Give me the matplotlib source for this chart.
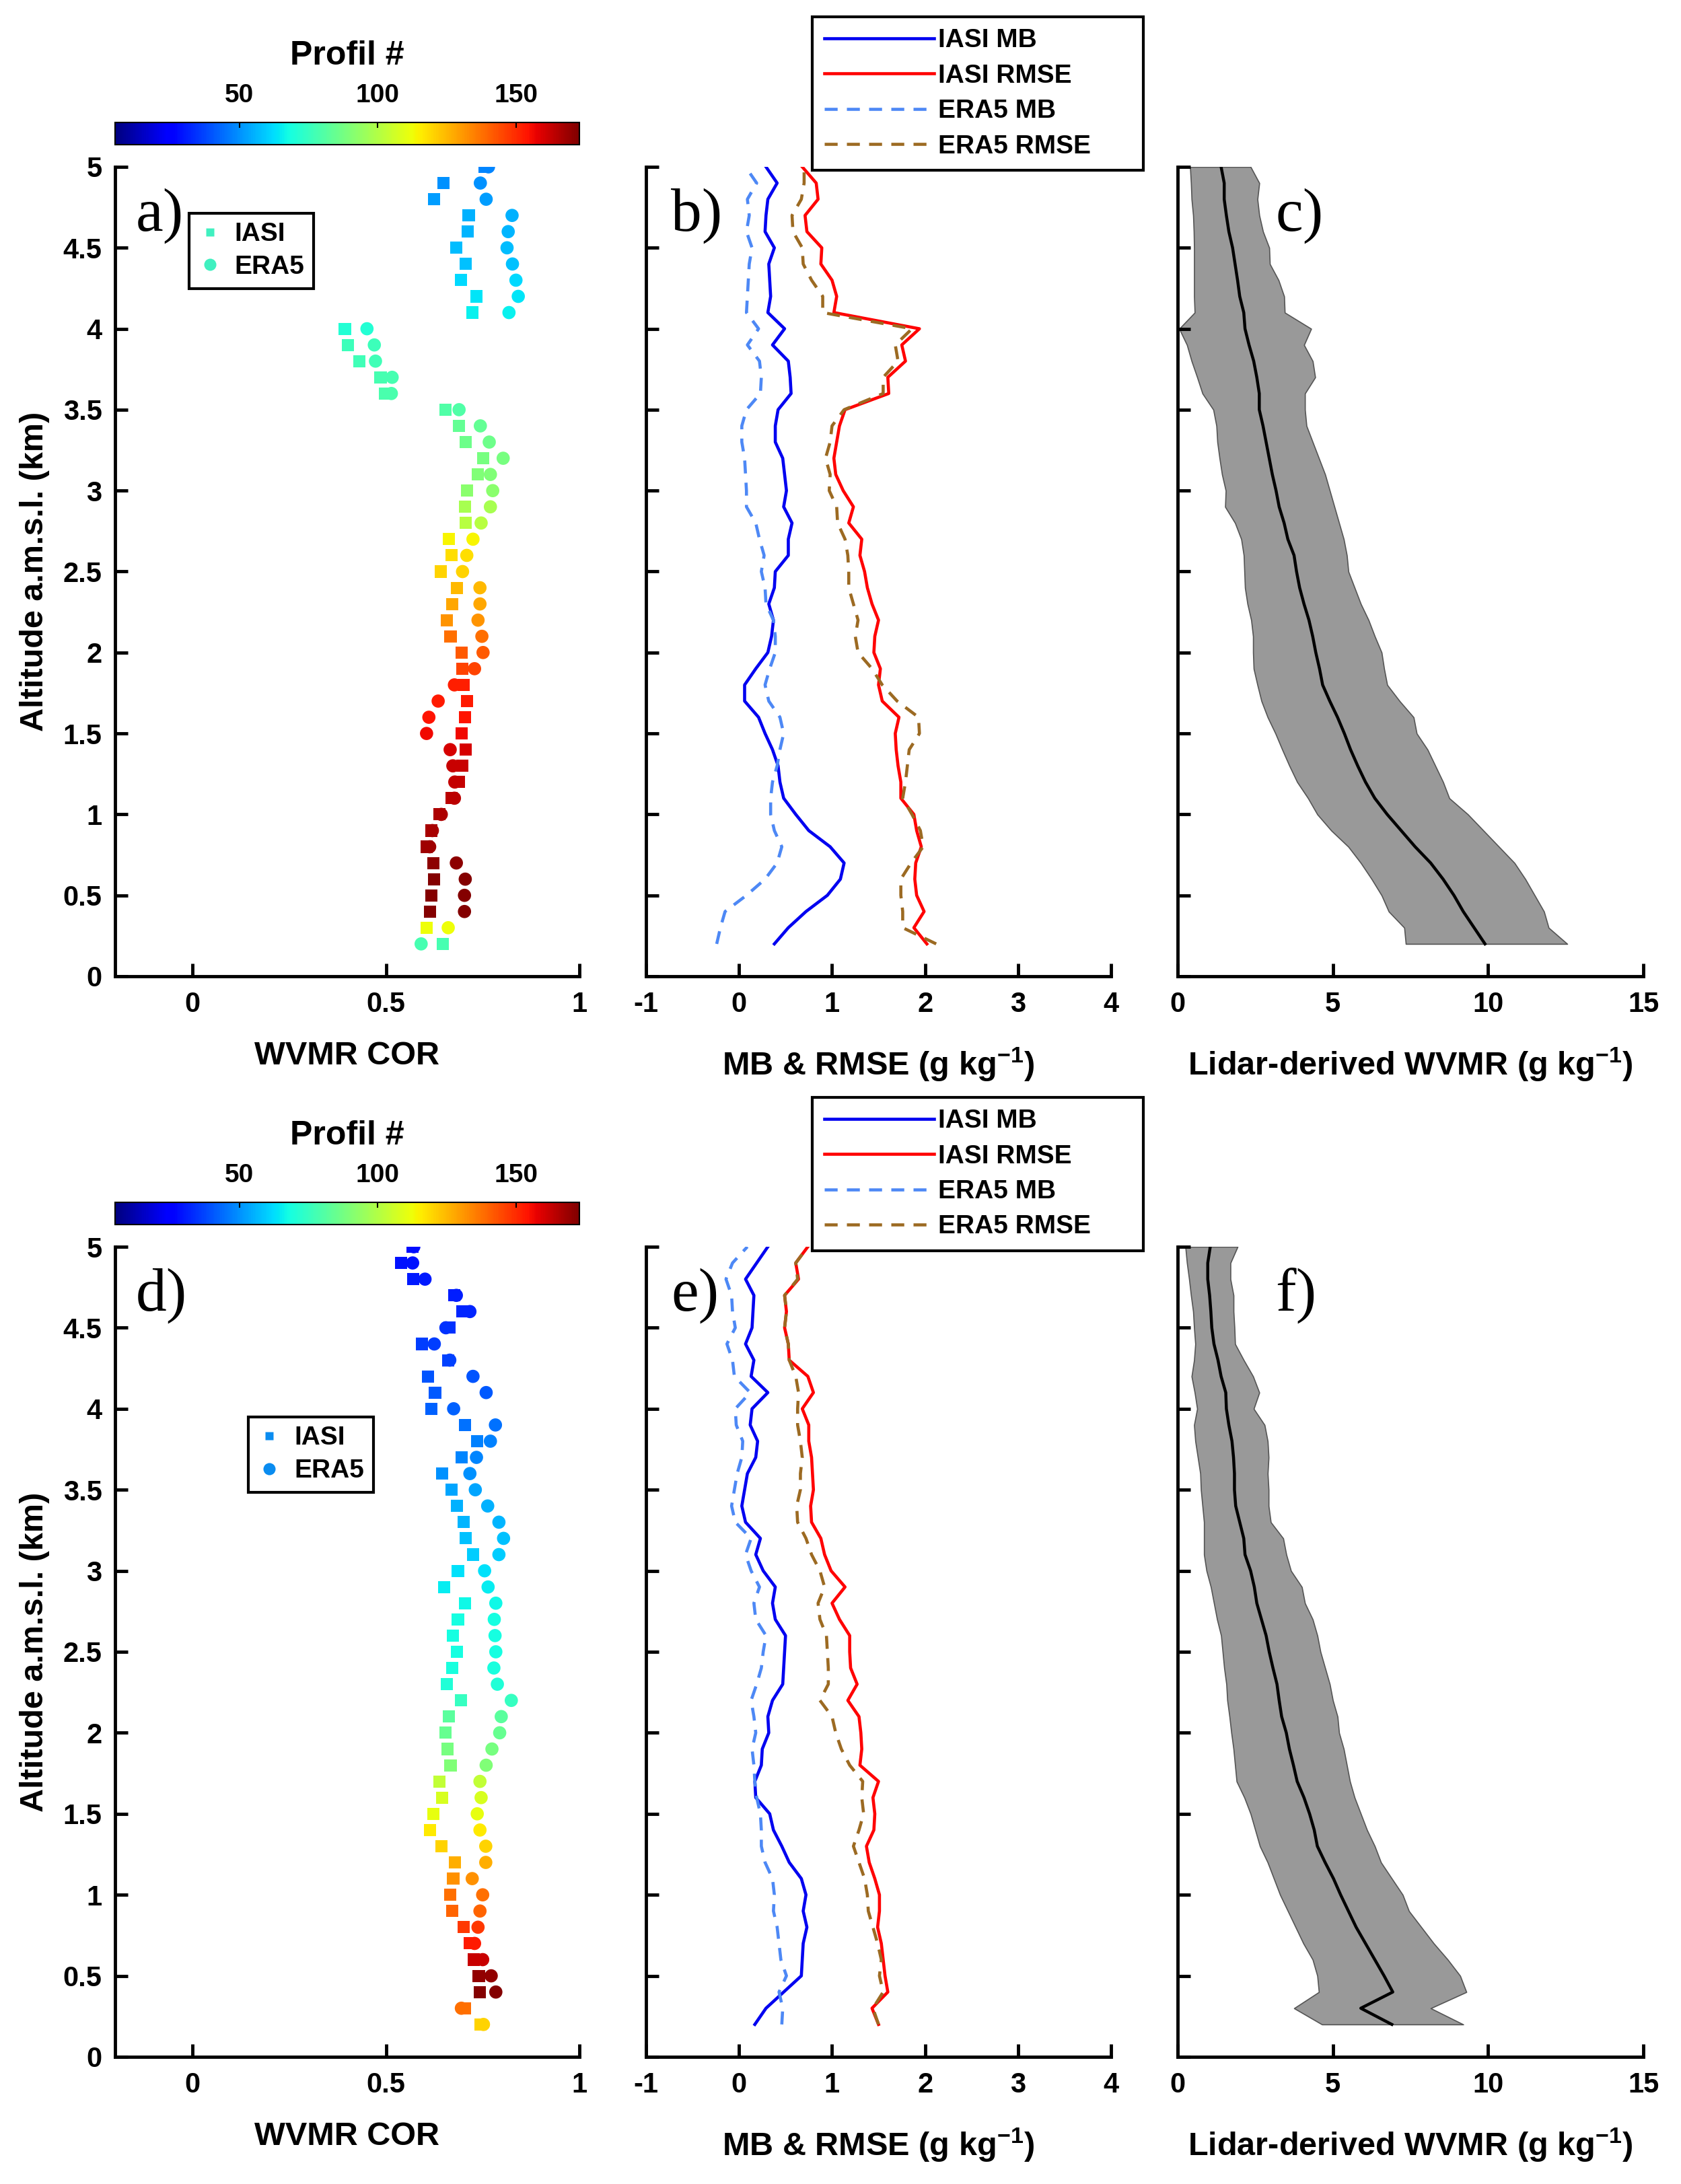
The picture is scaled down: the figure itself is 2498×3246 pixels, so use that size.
import numpy as np
import matplotlib
matplotlib.use("Agg")
import matplotlib.pyplot as plt
from matplotlib.lines import Line2D
from matplotlib.ticker import FuncFormatter

plt.rcParams['font.family'] = ['Liberation Sans', 'DejaVu Sans']
plt.rcParams['font.weight'] = 'bold'
plt.rcParams['mathtext.fontset'] = 'custom'
plt.rcParams['mathtext.rm'] = 'Liberation Sans:bold'
plt.rcParams['mathtext.it'] = 'Liberation Sans:bold'
plt.rcParams['mathtext.bf'] = 'Liberation Sans:bold'

# altitude grid (km), bottom to top
ALT = [0.2, 0.3, 0.4, 0.5, 0.6, 0.7, 0.8, 0.9, 1.0,
       1.1, 1.2, 1.3, 1.4, 1.5, 1.6, 1.7, 1.8, 1.9, 2.0,
       2.1, 2.2, 2.3, 2.4, 2.5, 2.6, 2.7, 2.8, 2.9, 3.0,
       3.1, 3.2, 3.3, 3.4, 3.5, 3.6, 3.7, 3.8, 3.9, 4.0,
       4.1, 4.2, 4.3, 4.4, 4.5, 4.6, 4.7, 4.8, 4.9, 5.0]

# ---- top row ----
COR_IASI_TOP = [0.647, 0.605, 0.614, 0.618, 0.625, 0.623, 0.605, 0.617, 0.639,
                0.669, 0.689, 0.697, 0.706, 0.695, 0.705, 0.709, 0.701, 0.697, 0.695,
                0.667, 0.657, 0.671, 0.683, 0.641, 0.669, 0.663, 0.706, 0.705, 0.709,
                0.738, 0.752, 0.706, 0.689, 0.654, 0.498, 0.486, 0.432, 0.402, 0.394,
                0.724, 0.734, 0.694, 0.706, 0.682, 0.711, 0.714, 0.625, 0.649, 0.755]
COR_ERA5_TOP = [0.591, 0.661, 0.703, 0.703, 0.705, 0.682, 0.613, 0.620, 0.643,
                0.677, 0.678, 0.673, 0.666, 0.605, 0.611, 0.635, 0.677, 0.729, 0.751,
                0.748, 0.738, 0.743, 0.743, 0.698, 0.709, 0.725, 0.746, 0.770, 0.776,
                0.770, 0.803, 0.767, 0.744, 0.689, 0.514, 0.516, 0.473, 0.470, 0.451,
                0.818, 0.842, 0.836, 0.827, 0.813, 0.816, 0.826, 0.759, 0.744, 0.765]
NPROF_TOP = [78, 112, 172, 172, 172, 171, 168, 167, 166,
             164, 163, 162, 160, 156, 154, 153, 152, 146, 142,
             138, 131, 128, 125, 120, 118, 114, 101, 98, 92,
             90, 88, 86, 84, 80, 79, 78, 77, 76, 71,
             66, 64, 62, 58, 57, 56, 55, 52, 50, 48]

MB_IASI_TOP = [0.38, 0.53, 0.72, 0.95, 1.09, 1.13, 0.98, 0.75, 0.61,
               0.48, 0.44, 0.42, 0.36, 0.28, 0.21, 0.06, 0.06, 0.18, 0.31,
               0.35, 0.37, 0.32, 0.38, 0.39, 0.53, 0.53, 0.57, 0.48, 0.51,
               0.49, 0.47, 0.39, 0.39, 0.42, 0.56, 0.55, 0.53, 0.36, 0.49,
               0.31, 0.34, 0.33, 0.32, 0.38, 0.28, 0.29, 0.31, 0.41, 0.29]
RMSE_IASI_TOP = [2.02, 1.88, 1.99, 1.91, 1.89, 1.90, 1.96, 1.91, 1.88,
                 1.74, 1.74, 1.71, 1.69, 1.68, 1.72, 1.54, 1.50, 1.52, 1.45,
                 1.46, 1.50, 1.43, 1.38, 1.35, 1.30, 1.32, 1.18, 1.23, 1.12,
                 1.04, 1.02, 1.05, 1.08, 1.14, 1.61, 1.60, 1.79, 1.75, 1.94,
                 1.02, 1.05, 1.00, 0.88, 0.89, 0.73, 0.71, 0.85, 0.83, 0.68]
MB_ERA5_TOP = [-0.24, -0.20, -0.15, 0.08, 0.28, 0.41, 0.46, 0.38, 0.34,
               0.34, 0.36, 0.41, 0.44, 0.48, 0.44, 0.32, 0.28, 0.33, 0.39,
               0.39, 0.37, 0.29, 0.28, 0.24, 0.27, 0.22, 0.18, 0.08, 0.08,
               0.07, 0.06, 0.03, 0.03, 0.08, 0.23, 0.24, 0.22, 0.09, 0.21,
               0.08, 0.09, 0.10, 0.11, 0.14, 0.08, 0.11, 0.09, 0.19, 0.07]
RMSE_ERA5_TOP = [2.12, 1.76, 1.76, 1.74, 1.74, 1.85, 1.98, 1.95, 1.86,
                 1.76, 1.79, 1.81, 1.83, 1.94, 1.93, 1.70, 1.54, 1.43, 1.28,
                 1.25, 1.28, 1.23, 1.18, 1.18, 1.17, 1.14, 1.06, 1.05, 0.97,
                 0.98, 0.93, 0.98, 1.00, 1.13, 1.55, 1.55, 1.71, 1.68, 1.86,
                 0.90, 0.90, 0.78, 0.69, 0.68, 0.58, 0.57, 0.67, 0.70, 0.70]

WVMR_MEAN_TOP = [9.90, 9.55, 9.20, 8.90, 8.55, 8.15, 7.65, 7.20, 6.75,
                 6.35, 6.05, 5.80, 5.57, 5.37, 5.15, 4.90, 4.67, 4.57, 4.45,
                 4.35, 4.23, 4.07, 3.93, 3.83, 3.75, 3.55, 3.43, 3.27, 3.17,
                 3.05, 2.95, 2.85, 2.75, 2.63, 2.63, 2.55, 2.45, 2.30, 2.17,
                 2.13, 2.00, 1.93, 1.85, 1.77, 1.65, 1.57, 1.50, 1.50, 1.40]
WVMR_LOW_TOP = [7.35, 7.30, 6.80, 6.57, 6.25, 5.90, 5.50, 4.95, 4.50,
                4.20, 3.85, 3.60, 3.37, 3.15, 2.90, 2.70, 2.57, 2.45, 2.43,
                2.43, 2.37, 2.25, 2.17, 2.15, 2.13, 2.05, 1.85, 1.53, 1.55,
                1.43, 1.35, 1.28, 1.25, 1.15, 0.80, 0.63, 0.45, 0.30, 0.05,
                0.55, 0.53, 0.53, 0.53, 0.53, 0.52, 0.50, 0.45, 0.43, 0.40]
WVMR_HIGH_TOP = [12.55, 11.95, 11.80, 11.50, 11.20, 10.85, 10.35, 9.85, 9.35,
                 8.75, 8.55, 8.30, 8.05, 7.70, 7.60, 7.15, 6.75, 6.65, 6.57,
                 6.35, 6.15, 5.90, 5.70, 5.50, 5.45, 5.35, 5.20, 5.05, 4.90,
                 4.75, 4.55, 4.35, 4.15, 4.10, 4.10, 4.43, 4.35, 4.07, 4.30,
                 3.45, 3.43, 3.25, 2.97, 2.95, 2.75, 2.63, 2.57, 2.63, 2.35]

# ---- bottom row ----
COR_IASI_BOT = [0.744, 0.705, 0.743, 0.740, 0.727, 0.717, 0.701, 0.671, 0.666,
                0.674, 0.678, 0.643, 0.614, 0.622, 0.645, 0.639, 0.667, 0.659, 0.654,
                0.662, 0.694, 0.657, 0.671, 0.684, 0.673, 0.686, 0.705, 0.650, 0.686,
                0.725, 0.706, 0.701, 0.683, 0.669, 0.645, 0.695, 0.736, 0.705, 0.617,
                0.627, 0.609, 0.661, 0.593, 0.665, 0.698, 0.677, 0.571, 0.539, 0.568]
COR_ERA5_BOT = [0.752, 0.695, 0.784, 0.772, 0.750, 0.729, 0.738, 0.743, 0.750,
                0.723, 0.758, 0.758, 0.743, 0.736, 0.746, 0.743, 0.759, 0.774, 0.794,
                0.798, 0.824, 0.788, 0.779, 0.784, 0.782, 0.780, 0.784, 0.764, 0.755,
                0.792, 0.804, 0.792, 0.763, 0.731, 0.717, 0.734, 0.770, 0.783, 0.675,
                0.759, 0.725, 0.665, 0.625, 0.655, 0.717, 0.682, 0.601, 0.569, 0.572]
NPROF_BOT = [120, 138, 172, 170, 162, 153, 148, 140, 138,
             132, 127, 120, 116, 111, 108, 103, 90, 88, 85,
             82, 75, 70, 69, 68, 68, 68, 67, 65, 63,
             60, 58, 56, 55, 53, 50, 48, 47, 45, 42,
             41, 40, 37, 36, 34, 32, 31, 30, 29, 28]

MB_IASI_BOT = [0.17, 0.29, 0.48, 0.67, 0.68, 0.69, 0.73, 0.69, 0.72,
               0.67, 0.54, 0.46, 0.37, 0.33, 0.18, 0.17, 0.24, 0.25, 0.32,
               0.31, 0.36, 0.47, 0.48, 0.49, 0.50, 0.39, 0.36, 0.39, 0.26,
               0.18, 0.23, 0.07, 0.03, 0.06, 0.09, 0.18, 0.20, 0.12, 0.14,
               0.31, 0.13, 0.16, 0.07, 0.14, 0.15, 0.16, 0.07, 0.19, 0.31]
RMSE_IASI_BOT = [1.50, 1.43, 1.60, 1.57, 1.55, 1.53, 1.49, 1.51, 1.51,
                 1.46, 1.40, 1.37, 1.45, 1.46, 1.44, 1.50, 1.30, 1.32, 1.31,
                 1.29, 1.17, 1.27, 1.20, 1.19, 1.19, 1.08, 1.00, 1.14, 0.99,
                 0.92, 0.88, 0.78, 0.77, 0.80, 0.79, 0.78, 0.75, 0.75, 0.68,
                 0.80, 0.74, 0.54, 0.53, 0.49, 0.51, 0.49, 0.64, 0.61, 0.74]
MB_ERA5_BOT = [0.46, 0.47, 0.43, 0.51, 0.45, 0.43, 0.41, 0.37, 0.38,
               0.36, 0.28, 0.24, 0.24, 0.23, 0.19, 0.17, 0.16, 0.14, 0.18,
               0.16, 0.13, 0.19, 0.24, 0.26, 0.29, 0.18, 0.16, 0.22, 0.13,
               0.07, 0.13, -0.04, -0.08, -0.05, -0.02, 0.03, 0.04, -0.03, -0.04,
               0.12, -0.05, -0.07, -0.13, -0.04, -0.07, -0.08, -0.14, -0.07, 0.09]
RMSE_ERA5_BOT = [1.50, 1.44, 1.55, 1.51, 1.53, 1.49, 1.44, 1.39, 1.38,
                 1.35, 1.29, 1.23, 1.29, 1.34, 1.32, 1.33, 1.19, 1.10, 1.04,
                 1.00, 0.87, 0.96, 0.96, 0.95, 0.94, 0.87, 0.85, 0.92, 0.87,
                 0.78, 0.72, 0.63, 0.62, 0.66, 0.66, 0.68, 0.66, 0.63, 0.63,
                 0.64, 0.61, 0.54, 0.53, 0.49, 0.51, 0.49, 0.63, 0.61, 0.74]

WVMR_MEAN_BOT = [6.90, 5.90, 6.93, 6.65, 6.35, 6.05, 5.75, 5.50, 5.25,
                 5.02, 4.75, 4.50, 4.40, 4.25, 4.07, 3.85, 3.73, 3.60, 3.50,
                 3.35, 3.27, 3.20, 3.07, 2.95, 2.85, 2.70, 2.55, 2.47, 2.35,
                 2.17, 2.13, 2.00, 1.87, 1.83, 1.83, 1.80, 1.75, 1.65, 1.57,
                 1.55, 1.40, 1.30, 1.17, 1.10, 1.07, 1.03, 0.97, 0.97, 1.05]
WVMR_LOW_BOT = [4.65, 3.75, 4.55, 4.50, 4.35, 4.05, 3.80, 3.55, 3.30,
                3.10, 2.90, 2.65, 2.50, 2.35, 2.15, 1.90, 1.85, 1.80, 1.73,
                1.67, 1.60, 1.57, 1.50, 1.45, 1.40, 1.27, 1.17, 1.07, 0.93,
                0.85, 0.85, 0.85, 0.80, 0.75, 0.73, 0.65, 0.57, 0.53, 0.63,
                0.55, 0.45, 0.53, 0.57, 0.53, 0.50, 0.43, 0.37, 0.30, 0.25]
WVMR_HIGH_BOT = [9.20, 8.15, 9.30, 9.10, 8.70, 8.25, 7.85, 7.45, 7.25,
                 6.90, 6.55, 6.35, 6.10, 5.90, 5.70, 5.55, 5.45, 5.35, 5.20,
                 5.15, 5.00, 4.90, 4.75, 4.60, 4.50, 4.35, 4.10, 4.00, 3.65,
                 3.50, 3.40, 3.00, 2.93, 2.93, 2.90, 2.93, 2.90, 2.80, 2.45,
                 2.63, 2.43, 2.13, 1.85, 1.83, 1.80, 1.80, 1.70, 1.70, 1.93]

PROF_RANGE = (5, 173)
LINE_STYLES = {
    "IASI MB": dict(color="#0000F0", ls="-"),
    "IASI RMSE": dict(color="#FF0000", ls="-"),
    "ERA5 MB": dict(color="#4D88F5", ls=(0, (4.2, 3.0))),
    "ERA5 RMSE": dict(color="#9C6A22", ls=(0, (4.2, 3.0))),
}

W, H = 2498, 3246
fig = plt.figure(figsize=(W / 100, H / 100), dpi=100)


def box(x0, y0, x1, y1):
    # pixel box (top-left origin) -> figure fraction
    return [x0 / W, 1 - y1 / H, (x1 - x0) / W, (y1 - y0) / H]


fmt = FuncFormatter(lambda v, p: f"{v:g}")


def style(ax, xlim, xticks, ylab=False):
    ax.set_xlim(xlim)
    ax.set_ylim(0, 5)
    ax.set_xticks(xticks)
    ax.set_yticks(np.arange(0, 5.01, 0.5))
    ax.xaxis.set_major_formatter(fmt)
    ax.yaxis.set_major_formatter(fmt)
    for s in ["top", "right"]:
        ax.spines[s].set_visible(False)
    for s in ["left", "bottom"]:
        ax.spines[s].set_linewidth(3.5)
    ax.tick_params(direction="in", length=14, width=3.5, labelsize=30)
    ax.tick_params(axis="y", pad=14)
    ax.tick_params(axis="x", pad=16)
    if ylab:
        ax.set_ylabel("Altitude a.m.s.l. (km)", fontsize=35, fontweight="bold", labelpad=14)
    else:
        ax.set_yticklabels([])


def letter(ax, x, y, s):
    ax.text(x, y, s, transform=ax.transAxes, fontsize=66, family="Liberation Serif",
            fontweight="normal", ha="left", va="center")


def plot_cor(ax, cax, iasi, era5, nprof, leg_xy, leg_color, tag, ty):
    sc = ax.scatter(iasi, ALT, c=nprof, cmap="jet", vmin=PROF_RANGE[0], vmax=PROF_RANGE[1],
                    marker="s", s=170, edgecolors="none", zorder=2)
    ax.scatter(era5, ALT, c=nprof, cmap="jet", vmin=PROF_RANGE[0], vmax=PROF_RANGE[1],
               marker="o", s=200, edgecolors="none", zorder=3)
    style(ax, (-0.2, 1), [0, 0.5, 1], ylab=True)
    ax.set_xlabel("WVMR COR", fontsize=35, fontweight="bold", labelpad=24)
    h1 = Line2D([], [], ls="none", marker="s", ms=9, color=leg_color, mec="none")
    h2 = Line2D([], [], ls="none", marker="o", ms=13, color=leg_color, mec="none")
    leg = ax.legend([h1, h2], ["IASI", "ERA5"], loc="upper left", bbox_to_anchor=leg_xy,
                    fontsize=28, fancybox=False, edgecolor="black", framealpha=1,
                    handlelength=0.9, handletextpad=0.5, borderpad=0.35, labelspacing=0.33,
                    borderaxespad=0)
    leg.get_frame().set_linewidth(3)
    letter(ax, 0.045, ty, tag)

    cb = fig.colorbar(sc, cax=cax, orientation="horizontal", ticks=[50, 100, 150])
    cax.xaxis.set_ticks_position("top")
    cax.xaxis.set_label_position("top")
    cax.tick_params(direction="in", length=6, width=1.5, labelsize=28, pad=16)
    cb.outline.set_linewidth(1.5)
    cb.set_label("Profil #", fontsize=36, fontweight="bold", labelpad=20)


def plot_err(ax, series, leg_box, tag, ty):
    for name, vals in series:
        ax.plot(vals, ALT, lw=3.3, label=name, **LINE_STYLES[name])
    style(ax, (-1, 4), [-1, 0, 1, 2, 3, 4])
    ax.set_xlabel("MB & RMSE (g kg$^{-1}$)", fontsize=35, fontweight="bold", labelpad=30)
    leg = ax.legend(loc="upper left", bbox_to_anchor=leg_box, bbox_transform=fig.transFigure,
                    mode="expand", fontsize=28, fancybox=False, edgecolor="black",
                    framealpha=1, handlelength=4.2, handletextpad=0.15, borderpad=0.45,
                    labelspacing=0.42, borderaxespad=0)
    leg.get_frame().set_linewidth(3)
    letter(ax, 0.054, ty, tag)


def plot_wvmr(ax, mean, low, high, tag, ty):
    ax.fill_betweenx(ALT, low, high, facecolor="#999999", edgecolor="#555555", lw=1.2)
    ax.plot(mean, ALT, color="black", lw=3.2)
    style(ax, (0, 15), [0, 5, 10, 15])
    ax.set_xlabel("Lidar-derived WVMR (g kg$^{-1}$)", fontsize=35, fontweight="bold", labelpad=30)
    letter(ax, 0.21, ty, tag)


cols = [(171, 861), (960, 1651), (1750, 2442)]
rows = [(248, 1451), (1853, 3057)]
cbars = [(182, 215), (1787, 1820)]
legs = [(25, 241), (1631, 1847)]

data = [
    dict(cor=(COR_IASI_TOP, COR_ERA5_TOP, NPROF_TOP),
         err=[("IASI MB", MB_IASI_TOP), ("IASI RMSE", RMSE_IASI_TOP),
              ("ERA5 MB", MB_ERA5_TOP), ("ERA5 RMSE", RMSE_ERA5_TOP)],
         wv=(WVMR_MEAN_TOP, WVMR_LOW_TOP, WVMR_HIGH_TOP),
         leg_xy=(0.159, 0.943), leg_color="#40F0C0", tags="abc", ty=0.94),
    dict(cor=(COR_IASI_BOT, COR_ERA5_BOT, NPROF_BOT),
         err=[("IASI MB", MB_IASI_BOT), ("IASI RMSE", RMSE_IASI_BOT),
              ("ERA5 MB", MB_ERA5_BOT), ("ERA5 RMSE", RMSE_ERA5_BOT)],
         wv=(WVMR_MEAN_BOT, WVMR_LOW_BOT, WVMR_HIGH_BOT),
         leg_xy=(0.287, 0.79), leg_color="#0A8CF0", tags="def", ty=0.94),
]

for r, d in enumerate(data):
    y0, y1 = rows[r]
    ax1 = fig.add_axes(box(cols[0][0], y0, cols[0][1], y1))
    ax2 = fig.add_axes(box(cols[1][0], y0, cols[1][1], y1))
    ax3 = fig.add_axes(box(cols[2][0], y0, cols[2][1], y1))
    cax = fig.add_axes(box(cols[0][0], cbars[r][0], cols[0][1], cbars[r][1]))
    plot_cor(ax1, cax, *d["cor"], d["leg_xy"], d["leg_color"], d["tags"][0] + ")", d["ty"])
    lt, lb = legs[r]
    plot_err(ax2, d["err"], (1207 / W, 1 - lt / H, 492 / W, 0), d["tags"][1] + ")", d["ty"])
    plot_wvmr(ax3, *d["wv"], d["tags"][2] + ")", d["ty"])

fig.savefig("out.png", dpi=100, facecolor="white")
